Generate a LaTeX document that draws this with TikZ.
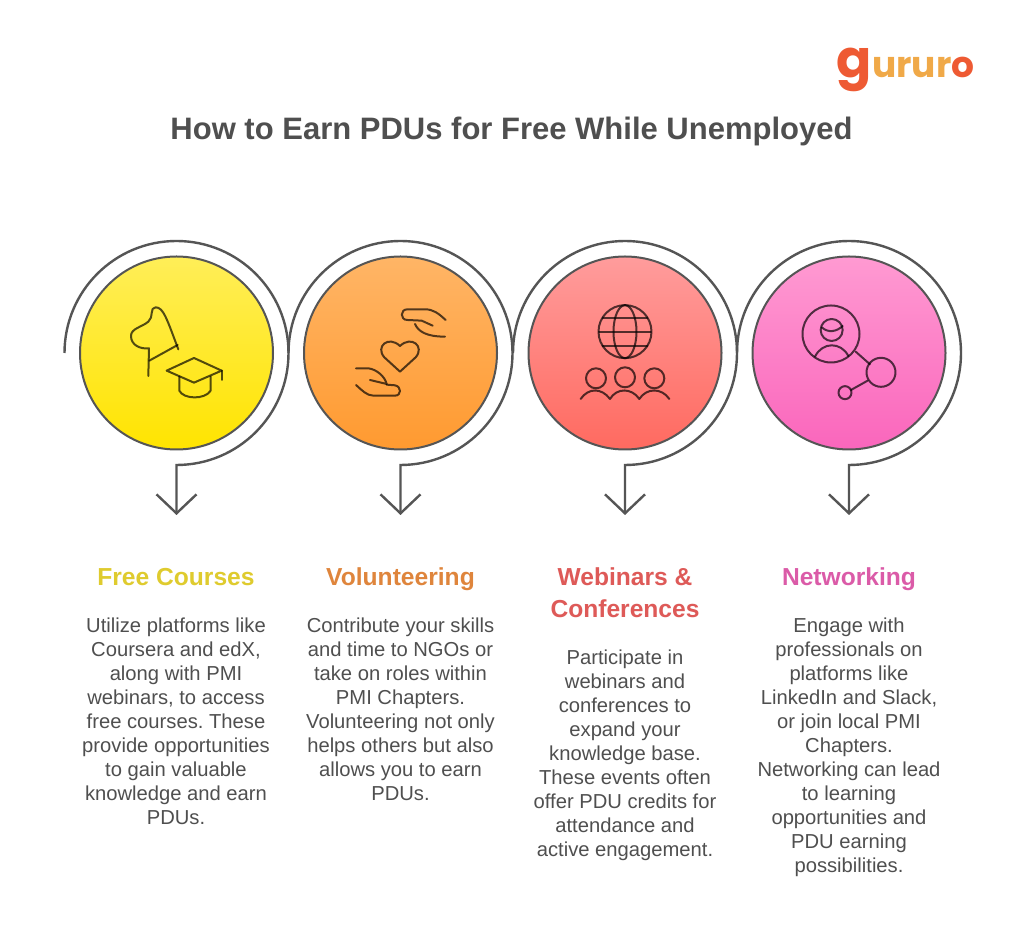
\documentclass[tikz,border=0pt]{standalone}
\usepackage{fontspec}
\setmainfont{Liberation Sans}
\newfontfamily\logofont{Poppins}
\usetikzlibrary{arrows.meta,positioning}
\definecolor{inkgray}{HTML}{555555}
\definecolor{bodygray}{HTML}{4F4F4F}
\definecolor{logored}{HTML}{EE5A33}
\definecolor{logoamber}{HTML}{F0A948}
\definecolor{FreeHead}{HTML}{DFCB2E}
\definecolor{VolHead}{HTML}{DF853C}
\definecolor{WebHead}{HTML}{DE5A58}
\definecolor{NetHead}{HTML}{DB5BA8}
\tikzset{
  stepcircle/.style={circle,draw=inkgray,line width=2pt,minimum size=193pt,inner sep=0pt,shading angle=0},
  spiral/.style={draw=inkgray,line width=2.4pt,-{Straight Barb[length=19pt,width=40pt,line width=2.4pt]}},
  iconline/.style={draw=black,draw opacity=.68,line width=2pt,line cap=round,line join=round},
  headtext/.style={font=\fontsize{24.6}{32}\selectfont\bfseries,align=center,inner sep=0pt,anchor=north,execute at begin node=\strut,execute at end node=\strut},
  desctext/.style={font=\frenchspacing\fontsize{20.2}{24}\selectfont,text=bodygray,align=center,inner sep=0pt,execute at begin node=\strut},
}
\begin{document}
\begin{tikzpicture}[x=1pt,y=1pt]
  \useasboundingbox[fill=white] (0,0) rectangle (1024,945);
  \def\spiralR{112}

  % logo and title
  \node[font=\logofont\fontsize{52}{52}\selectfont\bfseries,text=logored,inner sep=0pt,anchor=base] (logog) at (854,867) {g};
  \node[font=\logofont\fontsize{36}{36}\selectfont\bfseries,text=logoamber,inner sep=0pt,anchor=base west] (logorest) at (872,867) {uru\textcolor{logoamber}{r}\textcolor{logored}{o}};
  \node[font=\fontsize{31}{36}\selectfont\bfseries,text=bodygray,inner sep=0pt] (title) at (511.5,814) {How to Earn PDUs for Free While Unemployed};

  % circles with their spiral arrows
  \foreach \name/\cx/\colA/\colB in {free/176.5/FFEE58/FFE400,volun/400.5/FFB566/FF9A30,webin/625/FF9C9C/FF6A60,netw/849/FF9AD2/FA66BC}{
    \definecolor{topcol}{HTML}{\colA}
    \definecolor{botcol}{HTML}{\colB}
    \node[stepcircle,top color=topcol,bottom color=botcol] (\name) at (\cx,592) {};
    \coordinate (\name-start) at (\cx-\spiralR,592);
    \coordinate (\name-end) at (\cx,430);
    \draw[spiral] (\name-start) arc (180:-90:\spiralR) -- (\name-end);
  }

  % flag and cap
  \begin{scope}[shift={(50,715)},x=.3333pt,y=-.3333pt]
    \draw[iconline] (295,438) -- (297,355) .. controls (270,358) and (243,345) .. (243,318)
      .. controls (243,295) and (275,292) .. (295,275) .. controls (312,262) and (298,232) .. (317,232)
      .. controls (340,232) and (350,265) .. (385,358);
    \draw[iconline] (298,392) -- (383,345);
    \draw[iconline] (350,422) -- (432,384) -- (515,422) -- (432,458) -- cycle;
    \draw[iconline] (515,422) -- (515,450);
    \draw[iconline] (388,440) -- (388,482) .. controls (400,508) and (465,510) .. (482,482) -- (482,440);
  \end{scope}

  % hands and heart
  \begin{scope}[shift={(290,715)},x=.3333pt,y=-.3333pt]
    \draw[iconline] (467,270) .. controls (445,250) and (430,238) .. (405,238) -- (352,238)
      .. controls (330,238) and (330,270) .. (352,270) -- (395,272) -- (428,287);
    \draw[iconline] (375,282) .. controls (385,305) and (410,320) .. (465,320);
    \draw[iconline] (198,415) -- (235,415) .. controls (260,418) and (285,440) .. (290,462) -- (240,450);
    \draw[iconline] (290,464) -- (315,466) .. controls (335,470) and (335,497) .. (315,497) -- (250,497)
      .. controls (230,497) and (215,480) .. (198,465);
    \draw[iconline] (330,425) -- (283,382) .. controls (255,350) and (295,315) .. (330,348)
      .. controls (365,315) and (405,350) .. (377,382) -- cycle;
  \end{scope}

  % globe and people
  \begin{scope}[shift={(510,715)},x=.3333pt,y=-.3333pt]
    \draw[iconline] (345,305) circle [radius=26.5pt];
    \draw[iconline] (345,305) ellipse [x radius=11.5pt,y radius=26.5pt];
    \draw[iconline] (278,265) -- (412,265);
    \draw[iconline] (267,305) -- (423,305);
    \draw[iconline] (278,347) -- (412,347);
    \foreach \px/\py in {258/445,345/442,433/445}
      \draw[iconline] (\px,\py) circle [radius=10pt];
    \draw[iconline] (212,507) .. controls (235,473) and (275,473) .. (300,507)
      .. controls (320,473) and (365,473) .. (388,507)
      .. controls (410,473) and (455,473) .. (478,507);
  \end{scope}

  % person and links
  \begin{scope}[shift={(735,715)},x=.3333pt,y=-.3333pt]
    \draw[iconline] (288,312) circle [radius=28.5pt];
    \draw[iconline] (290,300) circle [radius=11pt];
    \draw[iconline] (260,292) .. controls (280,310) and (305,305) .. (323,288);
    \draw[iconline] (240,380) .. controls (262,335) and (318,335) .. (340,378);
    \draw[iconline] (362,365) -- (405,403);
    \draw[iconline] (438,427) circle [radius=14.5pt];
    \draw[iconline] (398,452) -- (348,480);
    \draw[iconline] (330,488) circle [radius=6.5pt];
  \end{scope}

  % captions
  \node[headtext,text=FreeHead] (freehead) at (176,382.4) {Free Courses};
  \node[desctext,below=22.4pt of freehead] (freetext) {Utilize platforms like\\Coursera and edX,\\along with PMI\\webinars, to access\\free courses. These\\provide opportunities\\to gain valuable\\knowledge and earn\\PDUs.};
  \node[headtext,text=VolHead] (volhead) at (400.5,382.4) {Volunteering};
  \node[desctext,below=22.4pt of volhead] (voltext) {Contribute your skills\\and time to NGOs or\\take on roles within\\PMI Chapters.\\Volunteering not only\\helps others but also\\allows you to earn\\PDUs.};
  \node[headtext,text=WebHead] (webhead) at (625,377.4) {Webinars \&\\Conferences};
  \node[desctext,below=22.4pt of webhead] (webtext) {Participate in\\webinars and\\conferences to\\expand your\\knowledge base.\\These events often\\offer PDU credits for\\attendance and\\active engagement.};
  \node[headtext,text=NetHead] (nethead) at (849,382.4) {Networking};
  \node[desctext,below=22.4pt of nethead] (nettext) {Engage with\\professionals on\\platforms like\\LinkedIn and Slack,\\or join local PMI\\Chapters.\\Networking can lead\\to learning\\opportunities and\\PDU earning\\possibilities.};
\end{tikzpicture}
\end{document}
